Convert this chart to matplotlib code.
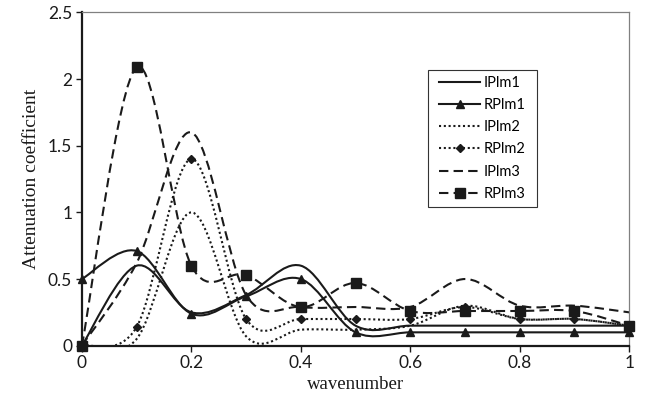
import numpy as np
import matplotlib.pyplot as plt
from matplotlib.path import Path
from matplotlib.patches import PathPatch, Rectangle
from matplotlib.lines import Line2D

# wavenumber grid and attenuation coefficients
wavenumber = [0, 0.1, 0.2, 0.3, 0.4, 0.5, 0.6, 0.7, 0.8, 0.9, 1.0]
IPlm1 = [0, 0.60, 0.25, 0.38, 0.60, 0.15, 0.15, 0.15, 0.15, 0.15, 0.15]
RPlm1 = [0.50, 0.71, 0.24, 0.37, 0.50, 0.10, 0.10, 0.10, 0.10, 0.10, 0.10]
IPlm2 = [0, 0.05, 1.00, 0.07, 0.12, 0.12, 0.15, 0.30, 0.20, 0.20, 0.15]
RPlm2 = [0, 0.14, 1.40, 0.20, 0.20, 0.20, 0.20, 0.29, 0.20, 0.20, 0.15]
IPlm3 = [0, 0.62, 1.60, 0.38, 0.29, 0.29, 0.29, 0.50, 0.30, 0.30, 0.25]
RPlm3 = [0, 2.09, 0.60, 0.53, 0.29, 0.47, 0.26, 0.26, 0.26, 0.26, 0.15]

names = ['IPlm1', 'RPlm1', 'IPlm2', 'RPlm2', 'IPlm3', 'RPlm3']
series = [IPlm1, RPlm1, IPlm2, RPlm2, IPlm3, RPlm3]

dotted = (0, (1.0, 1.3))
dashed = (0, (4.5, 2.5))
styles = [('-', None, 0), ('-', '^', 6), (dotted, None, 0),
          (dotted, 'D', 4.5), (dashed, None, 0), (dashed, 's', 6.5)]
ink = '#1a1a1a'


def smooth_path(xs, ys):
    # excel-like smoothed line: cubic bezier through the points
    pts = np.column_stack([xs, ys]).astype(float)
    n = len(pts)
    verts = [pts[0]]
    codes = [Path.MOVETO]
    for i in range(n - 1):
        p0 = pts[i - 1] if i > 0 else pts[i]
        p1 = pts[i]
        p2 = pts[i + 1]
        p3 = pts[i + 2] if i + 2 < n else pts[i + 1]
        c1 = p1 + (p2 - p0) / 6.0
        c2 = p2 - (p3 - p1) / 6.0
        verts += [c1, c2, p2]
        codes += [Path.CURVE4] * 3
    return Path(verts, codes)


fig = plt.figure(figsize=(6.5, 4.01), dpi=100)
ax = fig.add_axes([0.126, 0.138, 0.842, 0.831])

handles = []
for name, vals, (ls, mk, ms) in zip(names, series, styles):
    patch = PathPatch(smooth_path(wavenumber, vals), fill=False, edgecolor=ink,
                      linewidth=1.5, linestyle=ls, capstyle='butt')
    ax.add_patch(patch)
    if mk:
        ax.plot(wavenumber, vals, linestyle='none', marker=mk, markersize=ms,
                color=ink, clip_on=False, zorder=3)
    handles.append(Line2D([], [], color=ink, linewidth=1.5, linestyle=ls,
                          marker=mk, markersize=ms))

ax.set_xlim(0, 1)
ax.set_ylim(0, 2.5)
ax.set_xticks([0, 0.2, 0.4, 0.6, 0.8, 1])
ax.set_xticklabels(['0', '0.2', '0.4', '0.6', '0.8', '1'])
ax.set_yticks([0, 0.5, 1, 1.5, 2, 2.5])
ax.set_yticklabels(['0', '0.5', '1', '1.5', '2', '2.5'])
ax.tick_params(direction='out', length=4, width=1, labelsize=12.5,
               colors=ink, pad=3)
for lab in ax.get_xticklabels() + ax.get_yticklabels():
    lab.set_fontfamily('Lato')

for s in ['left', 'bottom']:
    ax.spines[s].set_linewidth(1.6)
    ax.spines[s].set_color(ink)
for s in ['top', 'right']:
    ax.spines[s].set_linewidth(0.9)
    ax.spines[s].set_color('#808080')

ax.set_xlabel('wavenumber', family='Liberation Serif', fontsize=13.5,
              color=ink, labelpad=3)
ax.set_ylabel('Attenuation coefficient', family='Liberation Serif',
              fontsize=14, color=ink, labelpad=6)

leg = ax.legend(handles, names, loc='upper left',
                bbox_to_anchor=(0.648, 0.818), numpoints=1,
                handlelength=2.8, handletextpad=0.25, labelspacing=0.56,
                borderpad=0.2, borderaxespad=0, frameon=False,
                prop={'family': 'Lato', 'size': 10.5})
leg.set_zorder(6)

# legend box with wider side padding, like the original
fig.canvas.draw()
bb = leg.get_window_extent().transformed(fig.transFigure.inverted())
padx = 8.5 / 650
pady = 3 / 401
box = Rectangle((bb.x0 - padx, bb.y0 - pady), bb.width + 2 * padx,
                bb.height + 2 * pady, transform=fig.transFigure,
                facecolor='white', edgecolor='#333333', linewidth=0.8,
                zorder=5, clip_on=False)
ax.add_artist(box)

fig.savefig('out.png', dpi=100)
